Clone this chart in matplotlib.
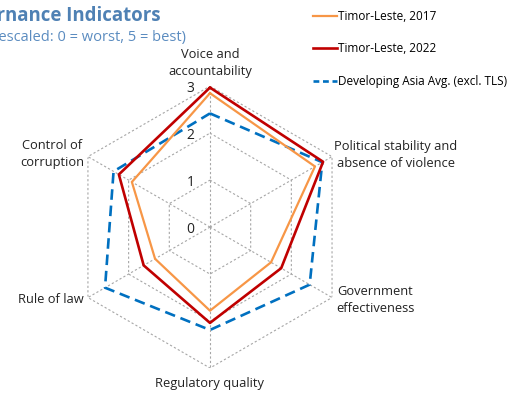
import numpy as np
import matplotlib
matplotlib.use("Agg")
import matplotlib.pyplot as plt
from matplotlib.lines import Line2D

plt.rcParams['font.family'] = ['Open Sans', 'DejaVu Sans']

# Indicator names, clockwise from the top
categories = ["Voice and\naccountability",
              "Political stability and\nabsence of violence",
              "Government\neffectiveness",
              "Regulatory quality",
              "Rule of law",
              "Control of\ncorruption"]

# Rescaled scores
tls_2017 = [2.85, 2.58, 1.50, 1.78, 1.35, 1.92]
tls_2022 = [2.97, 2.78, 1.75, 2.04, 1.63, 2.24]
asia_avg = [2.42, 2.76, 2.45, 2.19, 2.58, 2.37]

series_labels = ["Timor-Leste, 2017", "Timor-Leste, 2022",
                 "Developing Asia Avg. (excl. TLS)"]
ring_levels = [0, 1, 2, 3]

ORANGE = "#f79646"
RED = "#c00000"
BLUE = "#0070c0"
GRID = "#a6a6a6"

n = len(categories)
angles = np.linspace(0, 2 * np.pi, n, endpoint=False)
closed = np.append(angles, angles[0])


def close(vals):
    return np.append(vals, vals[0])


fig = plt.figure(figsize=(5.16, 3.97), dpi=100)
ax = fig.add_axes([0.1337, 0.073, 0.5465, 0.710], projection='polar')
ax.set_theta_offset(np.pi / 2)
ax.set_theta_direction(-1)
ax.set_ylim(0, 3)
ax.grid(False)
ax.spines['polar'].set_visible(False)
ax.set_xticks([])
ax.set_yticks([])
ax.patch.set_alpha(0)

# hexagonal grid and spokes
for lev in ring_levels[1:]:
    ax.plot(closed, [lev] * (n + 1), color=GRID, lw=0.8,
            linestyle=(0, (2, 2)), zorder=1)
for a in angles:
    ax.plot([a, a], [0, ring_levels[-1]], color=GRID, lw=0.8,
            linestyle=(0, (2, 2)), zorder=1)

# radial tick labels
for lev in ring_levels:
    ax.annotate(str(lev), xy=(0, lev), xytext=(-11, -1.5),
                textcoords='offset points', ha='right', va='center',
                fontsize=10, color='#222222')

ax.plot(closed, close(asia_avg), color=BLUE, lw=1.9,
        linestyle=(0, (4, 2.2)), zorder=3)
ax.plot(closed, close(tls_2017), color=ORANGE, lw=1.6, zorder=4)
ax.plot(closed, close(tls_2022), color=RED, lw=1.9, zorder=5)

# category labels
txt = dict(fontsize=9.3, color='#222222', linespacing=1.4,
           multialignment='center')
ax.text(angles[0], 3.5, categories[0], ha='center', va='center', **txt)
ax.text(angles[1], 3.06, categories[1], ha='left', va='center', **txt)
ax.text(angles[2], 3.1, categories[2], ha='left', va='center', **txt)
ax.text(angles[3], 3.33, categories[3], ha='center', va='center', **txt)
ax.text(angles[4], 3.1, categories[4], ha='right', va='center', **txt)
ax.text(angles[5], 3.1, categories[5], ha='right', va='center', **txt)

# title, partly cut off on the left as in the source
fig.text(161 / 516, 1 - 16 / 397, "Governance Indicators", ha='right',
         va='center', fontsize=13.4, fontweight='bold', color='#4f81b4')
fig.text(186 / 516, 1 - 38 / 397, "(Rescaled: 0 = worst, 5 = best)",
         ha='right', va='center', fontsize=10.5, color='#5b8cc0')

handles = [Line2D([], [], color=ORANGE, lw=1.6),
           Line2D([], [], color=RED, lw=1.9),
           Line2D([], [], color=BLUE, lw=1.9, linestyle=(0, (2.2, 1.4)))]
fig.legend(handles, series_labels, loc='upper left',
           bbox_to_anchor=(313 / 516, 1 - 10 / 397), frameon=False,
           fontsize=8.5, handlelength=2.0, handletextpad=0.15,
           labelspacing=1.65, borderpad=0, borderaxespad=0)

fig.savefig("out.png", dpi=100)
